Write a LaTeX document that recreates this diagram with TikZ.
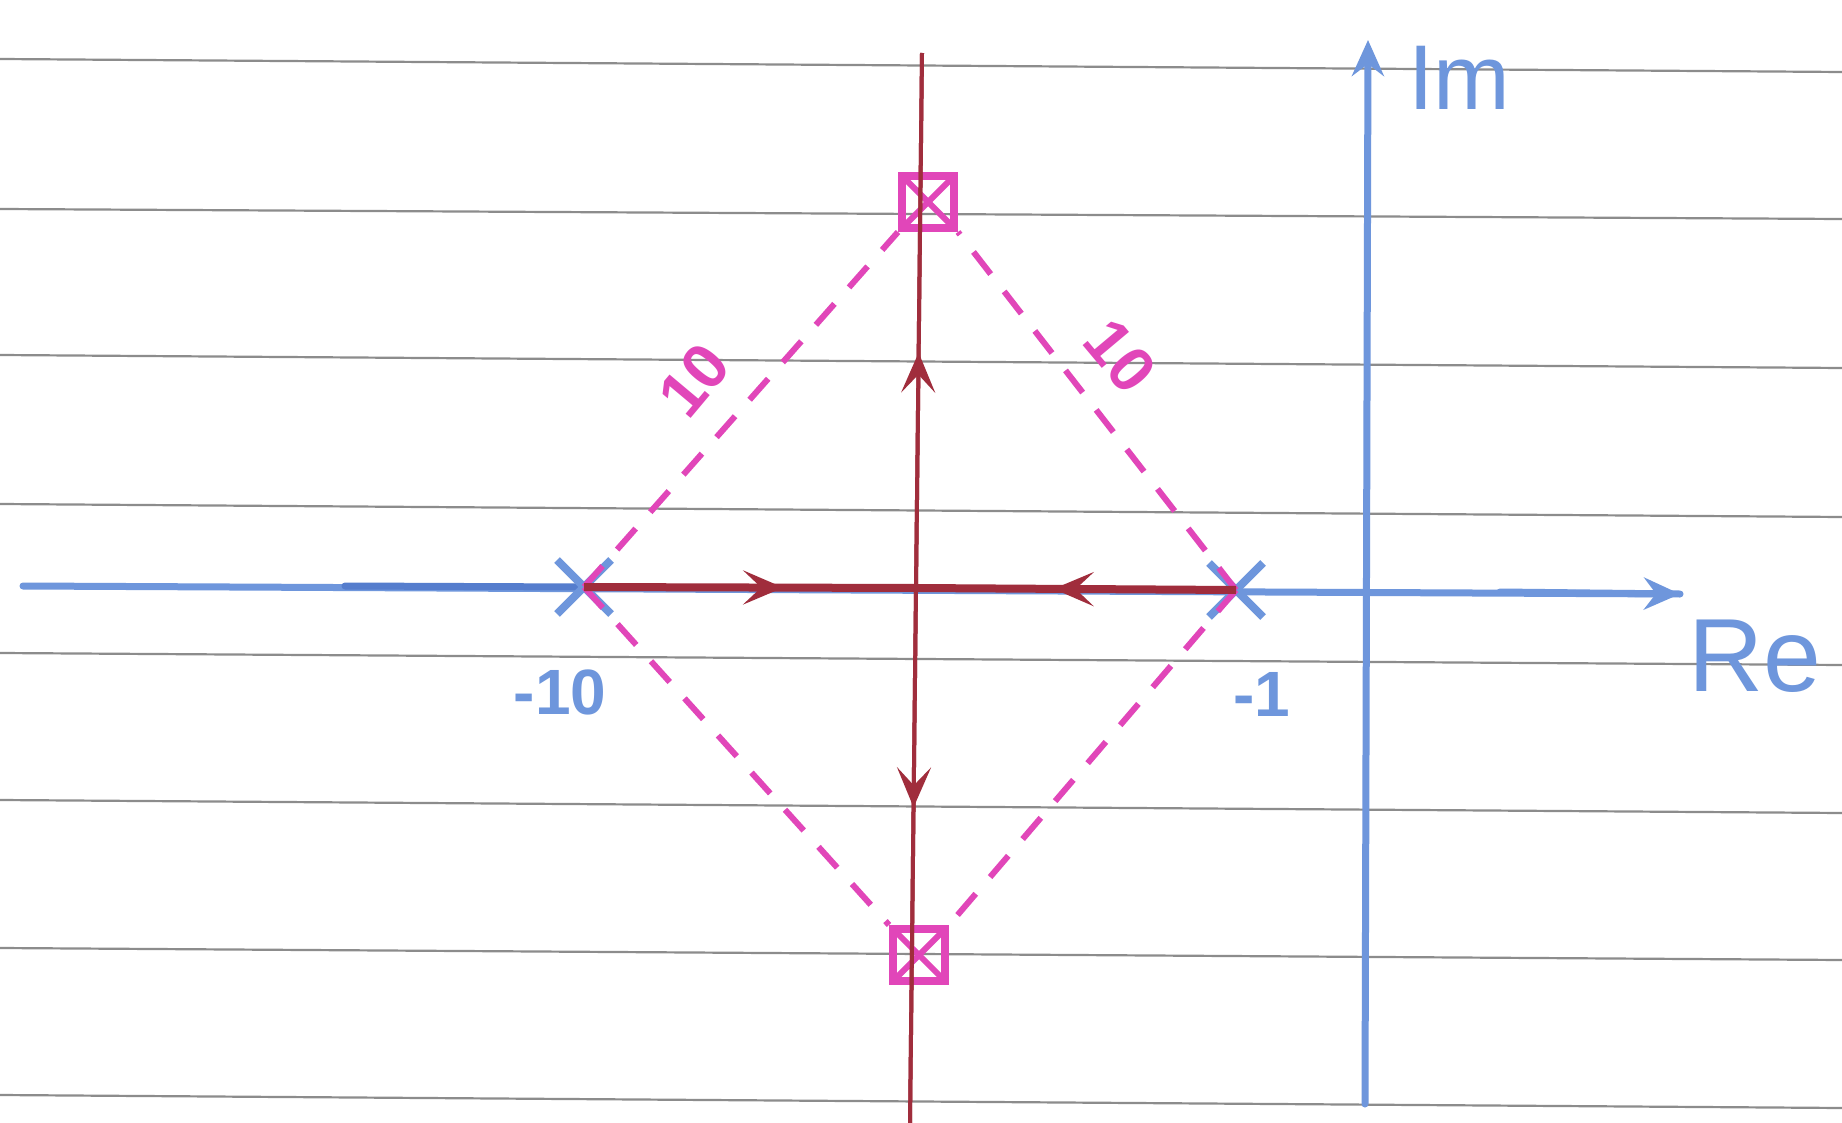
\documentclass[tikz,border=0pt]{standalone}
\usepackage{fontspec}
\setmainfont{Liberation Sans}
\usetikzlibrary{shapes.misc,arrows.meta,decorations.markings}
\definecolor{penblue}{RGB}{110,150,220}
\definecolor{penbluedark}{RGB}{85,125,205}
\definecolor{penred}{RGB}{160,45,60}
\definecolor{penpink}{RGB}{225,70,185}
\definecolor{ruleg}{RGB}{140,140,140}
\tikzset{
  ruled/.style={ruleg, line width=2.2pt},
  blueaxis/.style={penblue, line width=7pt, line cap=round},
  pole/.style={cross out, draw=penblue, line width=8pt, minimum size=46pt, inner sep=0pt},
  zero/.style={rectangle, draw=penpink, line width=8pt, minimum size=52pt, inner sep=0pt,
    path picture={\draw[penpink, line width=6pt] (path picture bounding box.south west) -- (path picture bounding box.north east)
      (path picture bounding box.north west) -- (path picture bounding box.south east);}},
  locus/.style={penred, line width=4pt},
  locusthick/.style={penred, line width=8pt},
  dashpink/.style={penpink, line width=6pt, dash pattern=on 28pt off 22pt},
  midarrow/.style={postaction={decorate}, decoration={markings,
    mark=at position #1 with {\arrow{Stealth[length=40pt,width=34pt,inset=18pt]}}}},
  lbl/.style={font=\fontsize{64}{70}\selectfont\bfseries, inner sep=0pt},
}
\begin{document}
\begin{tikzpicture}[x=1pt,y=-1pt]
\useasboundingbox[fill=white] (0,0) rectangle (1842,1123);
% ruled lines
\foreach \l/\r in {59/72, 209/219, 355/368, 504/517, 653/665, 800/813, 948/960, 1095/1108}
  \draw[ruled] (0,\l) -- (1842,\r);

% named points
\coordinate (reL) at (23,586);
\coordinate (reM) at (345,586);
\coordinate (reR) at (1680,594);
\coordinate (imB) at (1365,1104);
\coordinate (imT) at (1368,40);
\coordinate (vT) at (922,53);
\coordinate (vB) at (910,1123);
\coordinate (c) at (916,588);

% axes
\draw[blueaxis] (reL) -- (reR);
\draw[blueaxis, penbluedark] (reM) -- (584,587);
\draw[blueaxis, -{Stealth[length=36pt,width=32pt,inset=12pt]}] (imB) -- (imT);
\draw[blueaxis, -{Stealth[length=36pt,width=32pt,inset=12pt]}] (1500,592) -- (reR);

% poles and zeros
\node[pole] (p10) at (584,587) {};
\node[pole] (p1) at (1236,590) {};
\node[zero] (zt) at (928,202) {};
\node[zero] (zb) at (919,955) {};

% dashed pink
\draw[dashpink] (p10.center) -- (zt.south west);
\draw[dashpink] (p1.center) -- (zt.south east);
\draw[dashpink] (p10.center) -- (zb.north west);
\draw[dashpink] (p1.center) -- (zb.north east);

% root locus
\draw[locus] (vT) -- (vB);
\draw[locusthick, midarrow=0.6] (p10.center) -- (c);
\draw[locusthick, midarrow=0.57] (p1.center) -- (c);
\draw[locus, midarrow=0.44] (c) -- (vT);
\draw[locus, midarrow=0.41] (c) -- (vB);

% labels
\node[lbl, text=penblue] (l10) at (560,692) {-10};
\node[lbl, text=penblue] (l1) at (1262,694) {-1};
\node[lbl, text=penpink, rotate=50] (d1) at (694,380) {10};
\node[lbl, text=penpink, rotate=-50] (d2) at (1120,356) {10};
\node[lbl, text=penblue, anchor=west, font=\fontsize{92}{100}\selectfont] (im) at (1408,78) {Im};
\node[lbl, text=penblue, anchor=west, font=\fontsize{104}{110}\selectfont] (re) at (1688,656) {Re};
\end{tikzpicture}
\end{document}
